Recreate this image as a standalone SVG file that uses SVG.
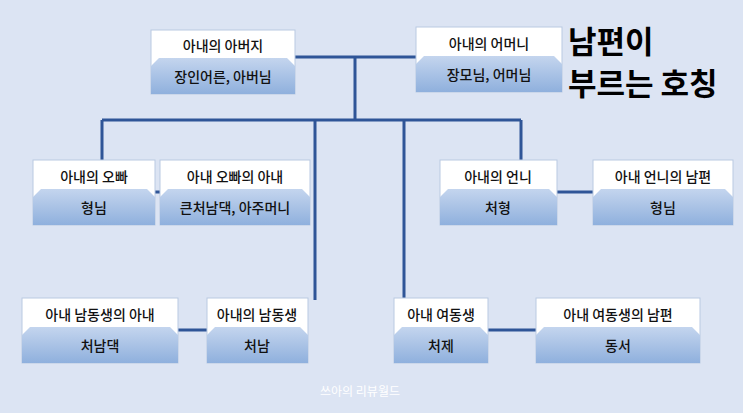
<svg xmlns="http://www.w3.org/2000/svg" width="743" height="413" viewBox="0 0 743 413">
<defs>
<linearGradient id="g" x1="0" y1="0" x2="0" y2="1"><stop offset="0" stop-color="#c4d5ee"/><stop offset="1" stop-color="#8fb0dd"/></linearGradient>
<style>
.t{font-family:"Noto Sans CJK KR","Noto Sans",sans-serif;font-size:14px;font-weight:500;fill:#111;text-anchor:middle}
.w{fill:#fff;stroke:#b9c9e2;stroke-width:1}
.b{fill:url(#g)}
.c{stroke:#2f5597;stroke-width:3;fill:none}
</style>
</defs>
<rect width="743" height="413" fill="#dce4f3"/>
<g id="connectors">
<path class="c" d="M295 57H416M355 57V120M102 120H521M102 120V160M315 120V300M404 120V300M521 120V160M155 192H160M557 192H593M178 330H207M488 330H536"/>
</g>
<g id="n1"><rect class="w" x="151" y="30" width="144" height="64"/><path class="b" d="M159 58H287L295 66V94H151V66Z"/><text class="t" x="223" y="51">아내의 아버지</text><text class="t" x="223" y="82">장인어른, 아버님</text></g>
<g id="n2"><rect class="w" x="416" y="27" width="146" height="65"/><path class="b" d="M424 56H554L562 64V92H416V64Z"/><text class="t" x="489" y="49">아내의 어머니</text><text class="t" x="489" y="80">장모님, 어머님</text></g>
<g id="n3"><rect class="w" x="33" y="160" width="122" height="65"/><path class="b" d="M41 189H147L155 197V225H33V197Z"/><text class="t" x="94" y="182">아내의 오빠</text><text class="t" x="94" y="213">형님</text></g>
<g id="n4"><rect class="w" x="160" y="160" width="150" height="65"/><path class="b" d="M168 189H302L310 197V225H160V197Z"/><text class="t" x="235" y="182">아내 오빠의 아내</text><text class="t" x="235" y="213">큰처남댁, 아주머니</text></g>
<g id="n5"><rect class="w" x="440" y="160" width="117" height="65"/><path class="b" d="M448 189H549L557 197V225H440V197Z"/><text class="t" x="498" y="182">아내의 언니</text><text class="t" x="498" y="213">처형</text></g>
<g id="n6"><rect class="w" x="593" y="160" width="140" height="65"/><path class="b" d="M601 189H725L733 197V225H593V197Z"/><text class="t" x="663" y="182">아내 언니의 남편</text><text class="t" x="663" y="213">형님</text></g>
<g id="n7"><rect class="w" x="22" y="298" width="156" height="65"/><path class="b" d="M30 327H170L178 335V363H22V335Z"/><text class="t" x="100" y="320">아내 남동생의 아내</text><text class="t" x="100" y="351">처남댁</text></g>
<g id="n8"><rect class="w" x="207" y="298" width="101" height="65"/><path class="b" d="M215 327H300L308 335V363H207V335Z"/><text class="t" x="257" y="320">아내의 남동생</text><text class="t" x="257" y="351">처남</text></g>
<g id="n9"><rect class="w" x="394" y="298" width="94" height="65"/><path class="b" d="M402 327H480L488 335V363H394V335Z"/><text class="t" x="441" y="320">아내 여동생</text><text class="t" x="441" y="351">처제</text></g>
<g id="n10"><rect class="w" x="536" y="298" width="164" height="65"/><path class="b" d="M544 327H692L700 335V363H536V335Z"/><text class="t" x="618" y="320">아내 여동생의 남편</text><text class="t" x="618" y="351">동서</text></g>
<g id="title" font-family="'Noto Sans CJK KR',sans-serif" font-size="31" font-weight="bold" fill="#000"><text x="568" y="53">남편이</text><text x="568" y="95">부르는 호칭</text></g>
<text x="360" y="396" font-family="'Noto Sans CJK KR',sans-serif" font-size="12" fill="#fff" text-anchor="middle">쓰아의 리뷰월드</text>
</svg>
